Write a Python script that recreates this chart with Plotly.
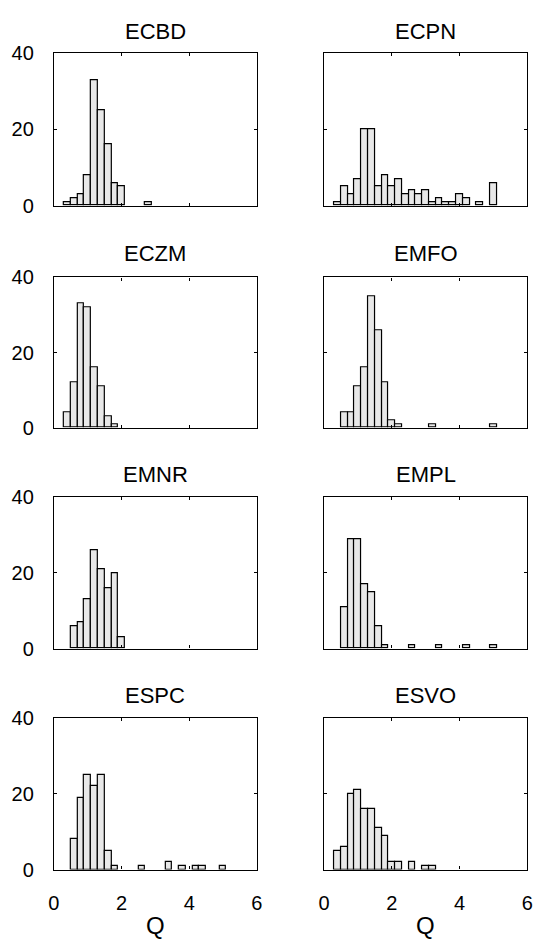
import plotly.graph_objects as go

# ---- data (counts per bin, bins of width 0.2 centred at 0.4, 0.6, ...) ----
bin_centers = [round(0.4 + 0.2 * k, 1) for k in range(24)]

panel_names = ["ECBD", "ECPN", "ECZM", "EMFO", "EMNR", "EMPL", "ESPC", "ESVO"]

ECBD = [1, 2, 3, 8, 33, 25, 16, 6, 5, 0, 0, 0, 1, 0, 0, 0, 0, 0, 0, 0, 0, 0, 0, 0]
ECPN = [1, 5, 3, 7, 20, 20, 5, 8, 5, 7, 3, 4, 3, 4, 1, 2, 1, 1, 3, 2, 0, 1, 0, 6]
ECZM = [4, 12, 33, 32, 16, 11, 3, 1, 0, 0, 0, 0, 0, 0, 0, 0, 0, 0, 0, 0, 0, 0, 0, 0]
EMFO = [0, 4, 4, 11, 16, 35, 26, 12, 2, 1, 0, 0, 0, 0, 1, 0, 0, 0, 0, 0, 0, 0, 0, 1]
EMNR = [0, 6, 7, 13, 26, 21, 16, 20, 3, 0, 0, 0, 0, 0, 0, 0, 0, 0, 0, 0, 0, 0, 0, 0]
EMPL = [0, 11, 29, 29, 17, 15, 6, 1, 0, 0, 0, 1, 0, 0, 0, 1, 0, 0, 0, 1, 0, 0, 0, 1]
ESPC = [0, 8, 19, 25, 22, 25, 5, 1, 0, 0, 0, 1, 0, 0, 0, 2, 0, 1, 0, 1, 1, 0, 0, 1]
ESVO = [5, 6, 20, 21, 16, 16, 11, 9, 2, 2, 0, 2, 0, 1, 1, 0, 0, 0, 0, 0, 0, 0, 0, 0]

series = [ECBD, ECPN, ECZM, EMFO, EMNR, EMPL, ESPC, ESVO]

x_ticks = [0, 2, 4, 6]
y_ticks = [0, 20, 40]
x_label = "Q"

# ---- layout geometry (pixels) ----
W, H = 545, 947
col_px = [(49, 256.5), (325.3, 533)]
row_px = [(43.3, 199.3), (272.7, 426.7), (497.7, 652.7), (723.7, 879)]
title_y_px = [20.5, 248.5, 475, 701]

FONT = "Liberation Sans, Arial, Helvetica, sans-serif"

fig = go.Figure()
annotations = []

for i, (name, vals) in enumerate(zip(panel_names, series)):
    r, c = divmod(i, 2)
    idx = i + 1
    xa = "x" if idx == 1 else f"x{idx}"
    ya = "y" if idx == 1 else f"y{idx}"
    xs = [xv for xv, v in zip(bin_centers, vals) if v > 0]
    ys = [v for v in vals if v > 0]
    fig.add_trace(go.Bar(
        x=xs, y=ys, width=0.2,
        marker=dict(color="#e8e8e8", line=dict(color="black", width=1.2)),
        xaxis=xa, yaxis=ya, showlegend=False, hoverinfo="x+y",
    ))
    x0, x1 = col_px[c]
    y0, y1 = row_px[r]
    xdom = [x0 / W, x1 / W]
    ydom = [1 - y1 / H, 1 - y0 / H]
    bottom = (r == 3)
    left = (c == 0)
    fig.update_layout(**{
        ("xaxis" if idx == 1 else f"xaxis{idx}"): dict(
            domain=xdom, range=[0, 6], anchor=ya,
            tickvals=x_ticks, ticktext=[str(v) for v in x_ticks],
            showticklabels=bottom, ticks="inside", ticklen=3, tickwidth=1,
            tickcolor="black", showline=True, linecolor="black", linewidth=1.3,
            mirror="ticks", showgrid=False, zeroline=False,
            tickfont=dict(size=20, color="black", family=FONT),
            ticklabelstandoff=15,
        ),
        ("yaxis" if idx == 1 else f"yaxis{idx}"): dict(
            domain=ydom, range=[0, 40], anchor=xa,
            tickvals=y_ticks, ticktext=[str(v) for v in y_ticks],
            showticklabels=left, ticks="inside", ticklen=3, tickwidth=1,
            tickcolor="black", showline=True, linecolor="black", linewidth=1.3,
            mirror="ticks", showgrid=False, zeroline=False,
            tickfont=dict(size=20, color="black", family=FONT),
            ticklabelstandoff=15,
        ),
    })
    annotations.append(dict(
        text=name, xref="paper", yref="paper",
        x=(x0 + x1) / 2 / W, y=1 - title_y_px[r] / H,
        xanchor="center", yanchor="middle", showarrow=False,
        font=dict(size=22, color="black", family=FONT),
    ))
    if bottom:
        annotations.append(dict(
            text=x_label, xref="paper", yref="paper",
            x=(x0 + x1) / 2 / W, y=1 - 936 / H,
            xanchor="center", yanchor="middle", showarrow=False,
            font=dict(size=24, color="black", family=FONT),
        ))

fig.update_layout(
    width=W, height=H,
    margin=dict(l=0, r=0, t=0, b=0),
    paper_bgcolor="white", plot_bgcolor="white",
    bargap=0,
    annotations=annotations,
)

fig.write_html("out.html")
